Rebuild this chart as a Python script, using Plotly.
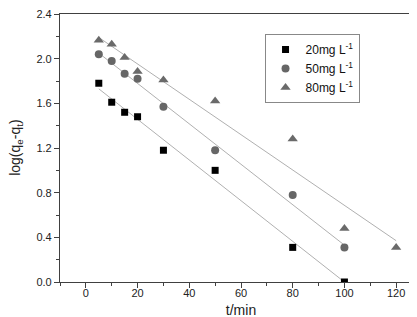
import plotly.graph_objects as go

t = [5, 10, 15, 20, 30, 50, 80, 100]
t80 = [5, 10, 15, 20, 30, 50, 80, 100, 120]
y20 = [1.78, 1.61, 1.52, 1.48, 1.18, 1.00, 0.31, 0.00]
y50 = [2.04, 1.98, 1.865, 1.82, 1.57, 1.18, 0.78, 0.31]
y80 = [2.165, 2.13, 2.01, 1.885, 1.81, 1.62, 1.28, 0.48, 0.31]
names = ["20mg L<sup>-1</sup>", "50mg L<sup>-1</sup>", "80mg L<sup>-1</sup>"]
y_title = "log(q<sub>e</sub>-q<sub>t</sub>)"

# fitted lines (end points)
fit20_x, fit20_y = [5, 100], [1.73, 0.0]
fit50_x, fit50_y = [5, 100], [2.05, 0.33]
fit80_x, fit80_y = [5, 120], [2.19, 0.37]

font = "Liberation Sans, Arial, sans-serif"
fig = go.Figure()
for fx, fy in [(fit20_x, fit20_y), (fit50_x, fit50_y), (fit80_x, fit80_y)]:
    fig.add_trace(go.Scatter(x=fx, y=fy, mode="lines", line=dict(color="#b0b0b0", width=1),
                             showlegend=False, hoverinfo="skip"))

fig.add_trace(go.Scatter(x=t, y=y20, mode="markers", name=names[0],
                         marker=dict(symbol="square", size=7, color="#000000")))
fig.add_trace(go.Scatter(x=t, y=y50, mode="markers", name=names[1],
                         marker=dict(symbol="circle", size=8, color="#666666")))
fig.add_trace(go.Scatter(x=t80, y=y80, mode="markers", name=names[2],
                         marker=dict(symbol="triangle-up", size=9, color="#6a6a6a")))

axis_common = dict(showline=True, linecolor="#404040", linewidth=1.2, mirror=True,
                   showgrid=False, zeroline=False, ticks="outside", ticklen=5,
                   tickcolor="#404040", ticklabeloverflow="allow", automargin=False,
                   tickfont=dict(family=font, size=11, color="#222"))
fig.update_xaxes(range=[-10, 130], tick0=0, dtick=20, ticklabelstandoff=-4,
                 minor=dict(dtick=10, ticks="outside", ticklen=3, tickcolor="#404040"),
                 title=dict(text="t/min", font=dict(family=font, size=14, color="#222"), standoff=6),
                 **axis_common)
fig.update_yaxes(range=[0, 2.4001], tick0=0, dtick=0.4, tickformat=".1f",
                 minor=dict(dtick=0.2, ticks="outside", ticklen=3, tickcolor="#404040"),
                 **axis_common)
fig.add_annotation(text=y_title, textangle=-90, xref="paper", yref="paper",
                   x=-0.122, y=0.5, xanchor="center", yanchor="middle", showarrow=False,
                   font=dict(family=font, size=14, color="#222"))
fig.update_layout(
    width=417, height=317,
    margin=dict(l=52, r=3, t=6, b=43),
    plot_bgcolor="white", paper_bgcolor="white",
    legend=dict(x=0.565, y=0.925, xanchor="left", yanchor="top",
                bordercolor="#888888", borderwidth=1, bgcolor="white",
                font=dict(family=font, size=12, color="#111")),
)
fig.write_html("out.html")
